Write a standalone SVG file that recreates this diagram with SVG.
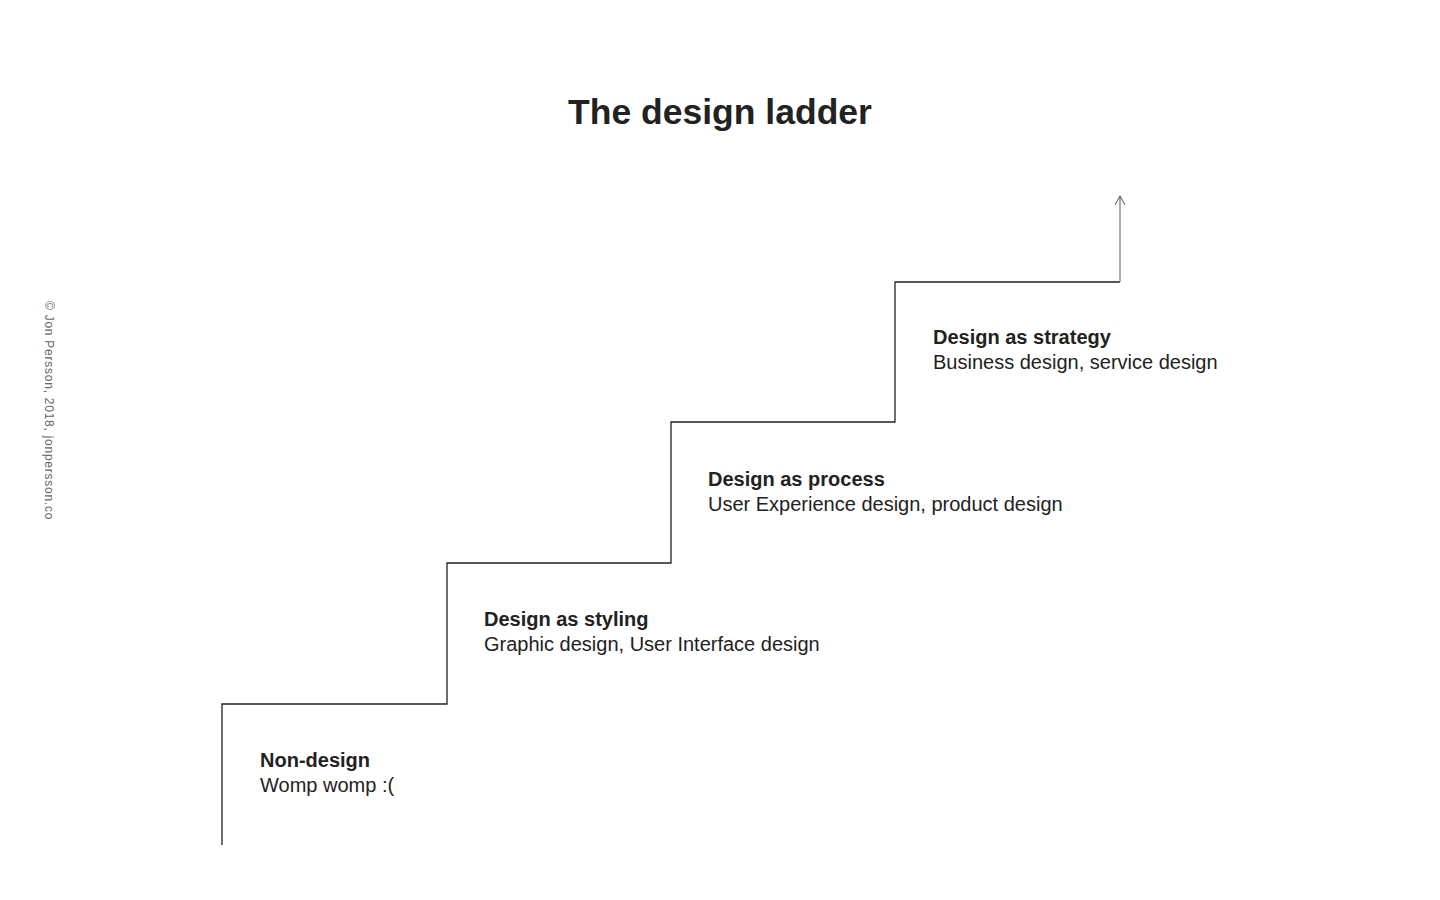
<svg xmlns="http://www.w3.org/2000/svg" width="1440" height="900" viewBox="0 0 1440 900">
<style>
text{font-family:"Liberation Sans",Arial,sans-serif;fill:#222}
.h{font-size:20px;font-weight:bold}
.s{font-size:20px}
</style>
<rect width="1440" height="900" fill="#fff"/>
<text x="720" y="124" text-anchor="middle" font-size="35.5" font-weight="bold">The design ladder</text>
<text transform="translate(45,301) rotate(90)" font-size="12" letter-spacing="0.75" style="fill:#666">© Jon Persson, 2018,  jonpersson.co</text>
<g id="connectors" fill="none">
<path d="M222,845 V704 H447 V563 H671 V422 H895 V282 H1120" stroke="#222" stroke-width="1.3"/>
<path d="M1120,282 V196 M1115,205 L1120,196 L1125,205" stroke="#777" stroke-width="1.2"/>
</g>
<g id="n1"><text class="h" x="260" y="767">Non-design</text><text class="s" x="260" y="792">Womp womp :(</text></g>
<g id="n2"><text class="h" x="484" y="626">Design as styling</text><text class="s" x="484" y="651">Graphic design, User Interface design</text></g>
<g id="n3"><text class="h" x="708" y="486">Design as process</text><text class="s" x="708" y="511">User Experience design, product design</text></g>
<g id="n4"><text class="h" x="933" y="344">Design as strategy</text><text class="s" x="933" y="369">Business design, service design</text></g>
</svg>
